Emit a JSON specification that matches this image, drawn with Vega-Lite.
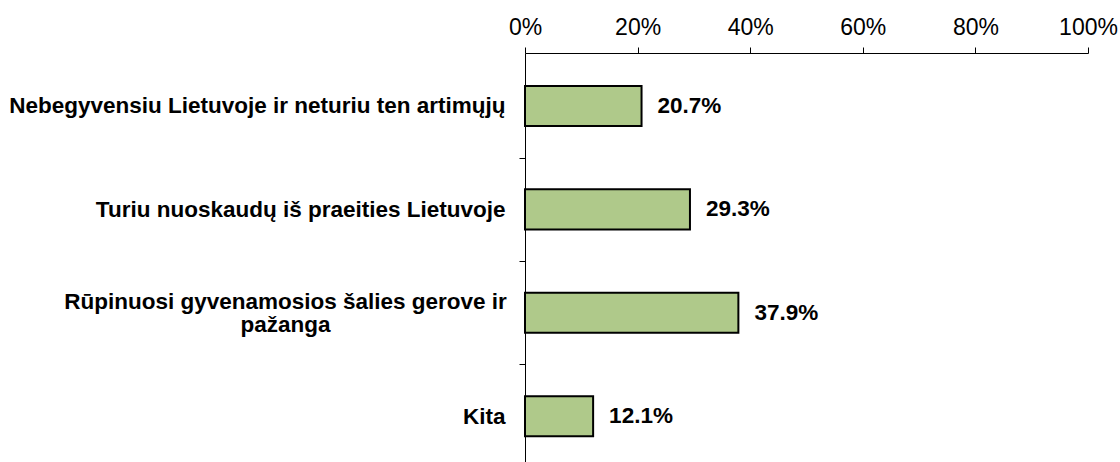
{
  "$schema": "https://vega.github.io/schema/vega-lite/v6.json",
  "autosize": {"type": "none"},
  "padding": {"left": 525, "top": 53, "right": 32, "bottom": 0},
  "width": 563,
  "height": 409,
  "background": "white",
  "config": {
    "view": {"stroke": null},
    "font": "Liberation Sans"
  },
  "data": {
    "values": [
      {"cat": "Nebegyvensiu Lietuvoje ir neturiu ten artimųjų", "v": 0.207},
      {"cat": "Turiu nuoskaudų iš praeities Lietuvoje", "v": 0.293},
      {"cat": "Rūpinuosi gyvenamosios šalies gerove ir pažanga", "v": 0.379},
      {"cat": "Kita", "v": 0.121}
    ]
  },
  "encoding": {
    "y": {
      "field": "cat",
      "type": "nominal",
      "sort": null,
      "scale": {"paddingInner": 0.613, "paddingOuter": 0.284, "align": 0.561},
      "axis": {
        "title": null,
        "orient": "left",
        "domainColor": "#000000",
        "domainWidth": 1,
        "tickColor": "#000000",
        "tickSize": 6,
        "tickOffset": 51.7,
        "labelOffset": {"condition": {"test": "datum.value === 'Rūpinuosi gyvenamosios šalies gerove ir pažanga'", "value": -63}, "value": -51.7},
        "labelFont": "Liberation Sans",
        "labelFontSize": 22.5,
        "labelFontWeight": "bold",
        "labelColor": "#000000",
        "labelLimit": 600,
        "labelLineHeight": 23,
        "labelBaseline": "middle",
        "labelAlign": {"condition": {"test": "datum.value === 'Rūpinuosi gyvenamosios šalies gerove ir pažanga'", "value": "center"}, "value": "right"},
        "labelPadding": {"condition": {"test": "datum.value === 'Rūpinuosi gyvenamosios šalies gerove ir pažanga'", "value": 234}, "value": 14},
        "labelExpr": "datum.value === 'Rūpinuosi gyvenamosios šalies gerove ir pažanga' ? ['Rūpinuosi gyvenamosios šalies gerove ir', 'pažanga'] : datum.label"
      }
    }
  },
  "layer": [
    {
      "mark": {"type": "bar", "color": "#AFC98A", "stroke": "#000000", "strokeWidth": 2},
      "encoding": {
        "x": {
          "field": "v",
          "type": "quantitative",
          "scale": {"domain": [0, 1], "nice": false},
          "axis": {
            "title": null,
            "orient": "top",
            "values": [0, 0.2, 0.4, 0.6, 0.8, 1],
            "format": ".0%",
            "grid": false,
            "domainColor": "#000000",
            "tickColor": "#000000",
            "tickSize": 6,
            "labelFont": "Liberation Sans",
            "labelFontSize": 23,
            "labelColor": "#000000",
            "labelPadding": 8,
            "labelFlush": false
          }
        }
      }
    },
    {
      "mark": {"type": "text", "align": "left", "baseline": "middle", "dx": 16, "fontSize": 22.5, "fontWeight": "bold", "font": "Liberation Sans", "color": "#000000"},
      "encoding": {
        "x": {"field": "v", "type": "quantitative"},
        "text": {"field": "v", "type": "quantitative", "format": ".1%"}
      }
    }
  ]
}
